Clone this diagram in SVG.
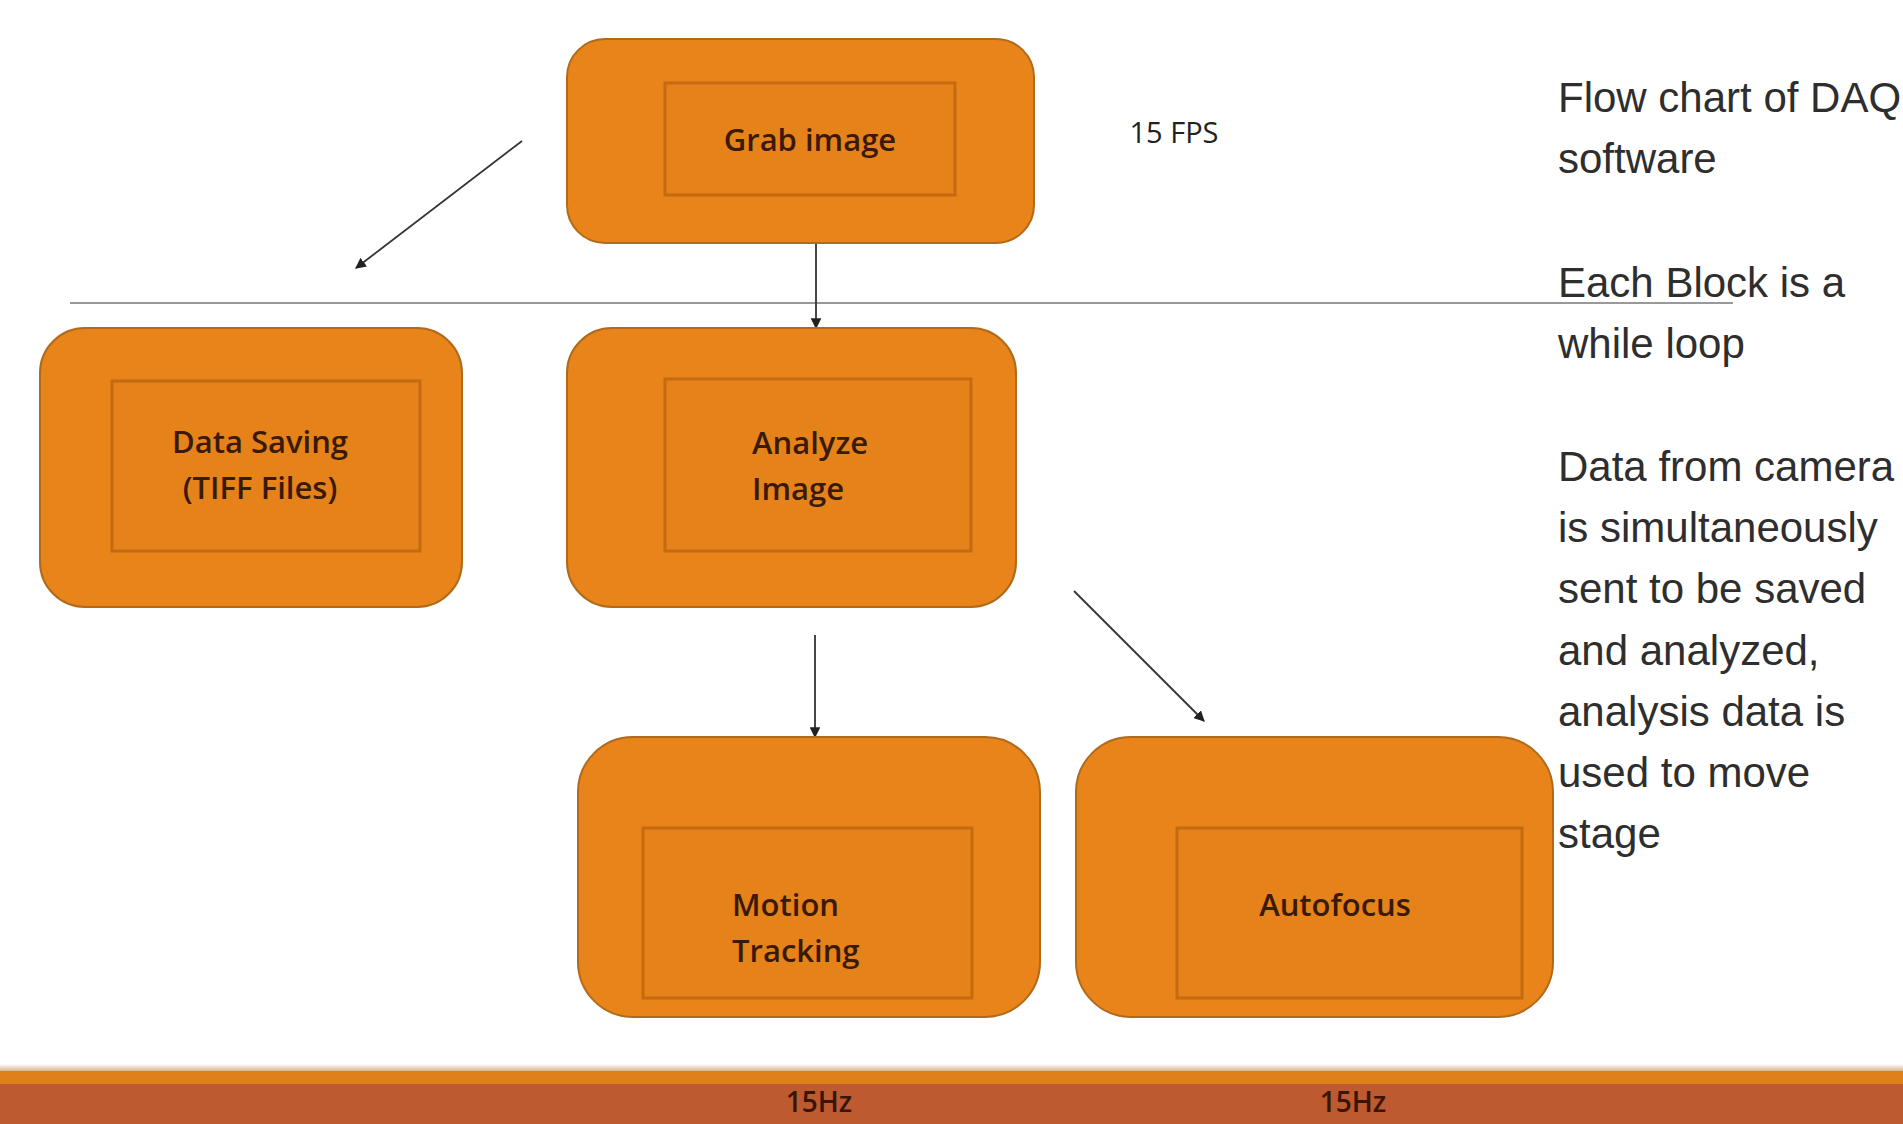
<svg xmlns="http://www.w3.org/2000/svg" width="1903" height="1124" viewBox="0 0 1903 1124">
<style>
.outer{fill:#E8841A;stroke:#B06A1A;stroke-width:2}
.inner{fill:#E5821A;stroke:#C46A10;stroke-width:3}
.lbl{font-family:"Open Sans","DejaVu Sans",sans-serif;font-size:31px;font-weight:600;fill:#3a1a05}
.side{font-family:"Liberation Sans",Arial,sans-serif;font-size:42px;fill:#2e2e2e}
.conn{stroke:#333333;stroke-width:1.8;fill:none;marker-end:url(#ah)}
.hz{font-family:"Open Sans","DejaVu Sans",sans-serif;font-size:28px;font-weight:600;fill:#3a1505;text-anchor:middle}
</style>
<defs>
<marker id="ah" viewBox="0 0 10 10" refX="9" refY="5" markerWidth="6" markerHeight="6" orient="auto" markerUnits="strokeWidth">
<path d="M0,0 L10,5 L0,10 z" fill="#222"/>
</marker>
<linearGradient id="shadow" x1="0" y1="0" x2="0" y2="1">
<stop offset="0" stop-color="#ffffff"/>
<stop offset="1" stop-color="#d8b48a"/>
</linearGradient>
</defs>
<rect x="0" y="0" width="1903" height="1124" fill="#ffffff"/>

<g id="bottom-band">
<rect x="0" y="1064" width="1903" height="7" fill="url(#shadow)"/>
<rect x="0" y="1071" width="1903" height="13" fill="#E0801A"/>
<rect x="0" y="1084" width="1903" height="40" fill="#BE5A2F"/>
<text class="hz" x="819" y="1112">15Hz</text>
<text class="hz" x="1353" y="1112">15Hz</text>
</g>

<g id="connectors">
<line x1="70" y1="303" x2="1733" y2="303" stroke="#777777" stroke-width="1.5"/>
<line class="conn" x1="522" y1="141" x2="356" y2="268"/>
<line class="conn" x1="816" y1="243" x2="816" y2="328"/>
<line class="conn" x1="815" y1="635" x2="815" y2="737"/>
<line class="conn" x1="1074" y1="591" x2="1204" y2="721"/>
</g>

<g id="grab-image">
<rect class="outer" x="567" y="39" width="467" height="204" rx="38"/>
<rect class="inner" x="665" y="83" width="290" height="112"/>
<text class="lbl" x="810" y="151" text-anchor="middle">Grab image</text>
</g>

<g id="fps-label">
<text class="lbl" x="1174" y="143" text-anchor="middle" style="fill:#222;font-size:29px;font-weight:400">15 FPS</text>
</g>

<g id="data-saving">
<rect class="outer" x="40" y="328" width="422" height="279" rx="45"/>
<rect class="inner" x="112" y="381" width="308" height="170"/>
<text class="lbl" x="260" y="453" text-anchor="middle">Data Saving</text>
<text class="lbl" x="260" y="499" text-anchor="middle">(TIFF Files)</text>
</g>

<g id="analyze-image">
<rect class="outer" x="567" y="328" width="449" height="279" rx="45"/>
<rect class="inner" x="665" y="379" width="306" height="172"/>
<text class="lbl" x="752" y="454">Analyze</text>
<text class="lbl" x="752" y="500">Image</text>
</g>

<g id="motion-tracking">
<rect class="outer" x="578" y="737" width="462" height="280" rx="55"/>
<rect class="inner" x="643" y="828" width="329" height="170"/>
<text class="lbl" x="732" y="916">Motion</text>
<text class="lbl" x="732" y="962">Tracking</text>
</g>

<g id="autofocus">
<rect class="outer" x="1076" y="737" width="477" height="280" rx="55"/>
<rect class="inner" x="1177" y="828" width="345" height="170"/>
<text class="lbl" x="1335" y="916" text-anchor="middle">Autofocus</text>
</g>

<g id="side-notes">
<text class="side" x="1558" y="112">Flow chart of DAQ</text>
<text class="side" x="1558" y="173">software</text>
<text class="side" x="1558" y="297">Each Block is a</text>
<text class="side" x="1558" y="358">while loop</text>
<text class="side" x="1558" y="481">Data from camera</text>
<text class="side" x="1558" y="542">is simultaneously</text>
<text class="side" x="1558" y="603">sent to be saved</text>
<text class="side" x="1558" y="665">and analyzed,</text>
<text class="side" x="1558" y="726">analysis data is</text>
<text class="side" x="1558" y="787">used to move</text>
<text class="side" x="1558" y="848">stage</text>
</g>
</svg>
